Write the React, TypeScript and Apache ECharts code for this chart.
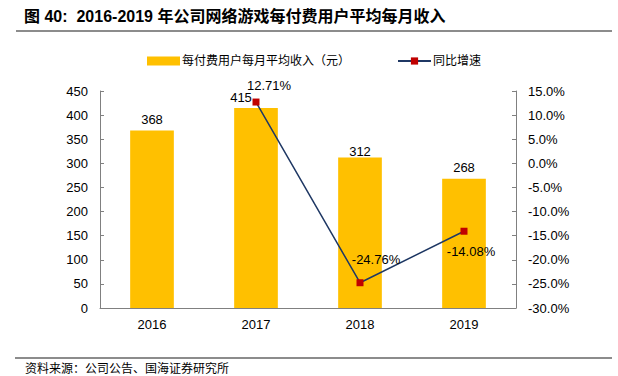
import React, { useEffect, useRef } from "react";
import * as echarts from "echarts";

const years = ["2016", "2017", "2018", "2019"];
const arpu = [368, 415, 312, 268];
const growth: (number | null)[] = [null, 12.71, -24.76, -14.08];
const barLabelOffsets: [number, number][] = [[0, 0], [-15, 1], [0, 5], [0, 0]];
const lineLabelCfg: { position: string; offset: [number, number] }[] = [
  { position: "top", offset: [0, 0] },
  { position: "top", offset: [13, -2] },
  { position: "top", offset: [16, -8] },
  { position: "bottom", offset: [7, 5] },
];

const numFont = "'Liberation Sans', Arial, sans-serif";
const cjkFont = "'Liberation Sans', 'Noto Sans CJK SC', sans-serif";

export default function App() {
  const ref = useRef<HTMLDivElement>(null);
  useEffect(() => {
    if (!ref.current) return;
    const chart = echarts.init(ref.current, null, { renderer: "svg" });
    chart.setOption({
      animation: false,
      textStyle: { fontFamily: cjkFont },
      graphic: [
        {
          type: "text",
          left: 24,
          top: 8,
          style: {
            text: "图 40:  2016-2019 年公司网络游戏每付费用户平均每月收入",
            font: "bold 16px 'Liberation Sans', 'Noto Sans CJK SC', sans-serif",
            fill: "#000",
          },
        },
        {
          type: "line",
          shape: { x1: 16, y1: 31, x2: 612, y2: 31 },
          style: { stroke: "#8c8c8c", lineWidth: 2 },
        },
        {
          type: "line",
          shape: { x1: 15, y1: 358, x2: 612, y2: 358 },
          style: { stroke: "#8c8c8c", lineWidth: 2 },
        },
        {
          type: "text",
          left: 25,
          top: 361,
          style: {
            text: "资料来源：公司公告、国海证券研究所",
            font: "12px 'Noto Sans CJK SC', sans-serif",
            fill: "#000",
          },
        },
      ],
      legend: {
        left: 142,
        top: 50,
        itemWidth: 33,
        itemHeight: 9,
        itemGap: 47,
        textStyle: { fontSize: 12, color: "#000", fontFamily: cjkFont, padding: [0, 0, 0, -3] },
        data: [
          { name: "每付费用户每月平均收入（元）", icon: "rect" },
          { name: "同比增速" },
        ],
      },
      grid: { left: 100, right: 102, top: 91, bottom: 68 },
      xAxis: {
        type: "category",
        data: years,
        axisLine: { lineStyle: { color: "#808080" } },
        axisTick: { show: false },
        axisLabel: { color: "#000", fontSize: 13, fontFamily: numFont, margin: 10 },
      },
      yAxis: [
        {
          type: "value",
          min: 0,
          max: 450,
          interval: 50,
          splitLine: { show: false },
          axisLine: { show: true, lineStyle: { color: "#808080" } },
          axisTick: { show: true, inside: true, length: 4, lineStyle: { color: "#808080" } },
          axisLabel: { color: "#000", fontSize: 13, fontFamily: numFont, margin: 12 },
        },
        {
          type: "value",
          min: -30,
          max: 15,
          interval: 5,
          splitLine: { show: false },
          axisLine: { show: true, lineStyle: { color: "#808080" } },
          axisTick: { show: true, inside: true, length: 4, lineStyle: { color: "#808080" } },
          axisLabel: {
            color: "#000",
            fontSize: 13,
            fontFamily: numFont,
            margin: 12,
            formatter: (v: number) => v.toFixed(1) + "%",
          },
        },
      ],
      series: [
        {
          name: "每付费用户每月平均收入（元）",
          type: "bar",
          barWidth: "42%",
          itemStyle: { color: "#FFC000" },
          data: arpu.map((v, i) => ({
            value: v,
            label: { offset: barLabelOffsets[i] },
          })),
          label: {
            show: true,
            position: "top",
            color: "#000",
            fontSize: 13,
            fontFamily: numFont,
          },
        },
        {
          name: "同比增速",
          type: "line",
          yAxisIndex: 1,
          symbol: "rect",
          symbolSize: 7,
          lineStyle: { color: "#1F3864", width: 1.5 },
          itemStyle: { color: "#C00000" },
          data: growth.map((v, i) => ({
            value: v,
            label: { position: lineLabelCfg[i].position, offset: lineLabelCfg[i].offset },
          })),
          label: {
            show: true,
            color: "#000",
            fontSize: 13,
            fontFamily: numFont,
            formatter: (p: any) => (p.value == null ? "" : p.value.toFixed(2) + "%"),
          },
        },
      ],
    });
    return () => chart.dispose();
  }, []);
  return <div ref={ref} style={{ width: 618, height: 376, position: "absolute", left: 0, top: 0 }} />;
}
